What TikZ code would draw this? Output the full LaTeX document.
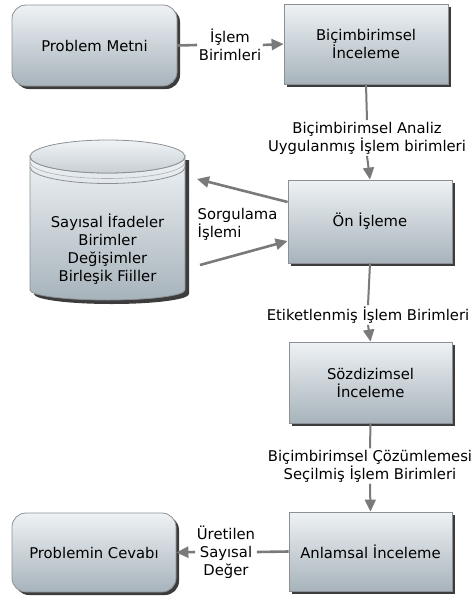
\documentclass[tikz,border=0pt]{standalone}
\usepackage{fontspec}
\setmainfont{DejaVu Sans}
\usetikzlibrary{shadows,arrows.meta}
\definecolor{boxtop}{HTML}{EEF2F5}
\definecolor{boxbot}{HTML}{A7B3BB}
\definecolor{edgegrey}{HTML}{8C9094}
\definecolor{flowgrey}{HTML}{7A7A7A}
\definecolor{shadowgrey}{HTML}{3C3C3C}

\begin{document}
\begin{tikzpicture}[x=1pt,y=-1pt,
  font=\fontsize{14.8}{18}\selectfont,
  stage/.style={draw=edgegrey, line width=0.8pt, top color=boxtop, bottom color=boxbot,
    minimum width=164pt, minimum height=80pt, align=center, inner sep=2pt,
    drop shadow={shadow xshift=3pt, shadow yshift=-3pt, fill=shadowgrey, opacity=1}},
  terminal/.style={stage, rounded corners=14pt},
  lbl/.style={fill=white, inner sep=1.5pt, align=center},
  flowline/.style={draw=flowgrey, line width=2.6pt},
  thinflow/.style={draw=flowgrey, line width=2pt},
  tip/.style={-{Triangle[length=12pt,width=11pt]}}
]
\useasboundingbox (0,0) rectangle (471,600);

% process boxes
\node[terminal] (metin) at (94.5,45.5) [minimum width=165pt, minimum height=81pt] {Problem Metni};
\node[stage] (bicim) at (366,44) {Biçimbirimsel\\İnceleme};
\node[stage] (on) at (370,221.5) [minimum height=83pt] {Ön İşleme};
\node[stage] (soz) at (370.5,382.5) [minimum width=163pt, minimum height=81pt] {Sözdizimsel\\İnceleme};
\node[stage] (anlam) at (370.5,551.5) [minimum width=163pt, minimum height=79pt] {Anlamsal İnceleme};
\node[terminal] (cevap) at (94,552.5) [minimum height=79pt] {Problemin Cevabı};

% database cylinder: shadow, body, lid with two rim lines
\fill[shadowgrey] (34,160) -- (34,294) arc[start angle=180, end angle=360, x radius=77.5, y radius=-10] -- (189,160) -- cycle;
\shade[top color=boxtop, bottom color=boxbot, draw=edgegrey, line width=0.8pt]
  (30,156.5) -- (30,290) arc[start angle=180, end angle=360, x radius=77.5, y radius=-10]
  -- (185,156.5) arc[start angle=0, end angle=-180, x radius=77.5, y radius=-16.5] -- cycle;
\shade[top color=boxtop!90!white, bottom color=boxtop!45!boxbot, draw=edgegrey, line width=0.8pt]
  (107.5,156.5) ellipse[x radius=77.5, y radius=16.5];
\draw[edgegrey!70, line width=0.6pt] (30,162) arc[start angle=180, end angle=360, x radius=77.5, y radius=-16.5];
\draw[edgegrey, line width=0.8pt] (30,167) arc[start angle=180, end angle=360, x radius=77.5, y radius=-16.5];
\node[align=center] (db) at (107.5,249) {Sayısal İfadeler\\Birimler\\Değişimler\\Birleşik Fiiller};
\coordinate (dbin) at (197,179);
\coordinate (dbout) at (200,265);

% edge labels
\node[lbl] (l1) at (230,45) {İşlem\\Birimleri};
\node[lbl] (l2) at (367,138) {Biçimbirimsel Analiz\\Uygulanmış İşlem birimleri};
\node[lbl, align=left, anchor=west, fill=none] (l3) at (196,224) {Sorgulama\\İşlemi};
\node[lbl] (l4) at (368,315) {Etiketlenmiş İşlem Birimleri};
\node[lbl] (l5) at (370,466) {Biçimbirimsel Çözümlemesi\\Seçilmiş İşlem Birimleri};
\node[lbl] (l6) at (226,552) {Üretilen\\Sayısal\\Değer};

% connectors
\draw[flowline] (metin.east) -- (l1.west);
\draw[flowline, tip] (l1.east) -- (bicim.west);
\draw[thinflow] (bicim.south) -- (l2.north);
\draw[thinflow, tip] (l2.south) -- (on.north);
\draw[flowline, tip] ([yshift=19.5pt]on.west) -- (dbin);
\draw[flowline, tip] (dbout) -- ([yshift=-19.5pt]on.west);
\draw[thinflow] (on.south) -- (l4.north);
\draw[thinflow, tip] (l4.south) -- (soz.north);
\draw[thinflow] (soz.south) -- (l5.north);
\draw[thinflow, tip] (l5.south) -- (anlam.north);
\draw[flowline] (anlam.west) -- (l6.east);
\draw[flowline, tip] (l6.west) -- (cevap.east);
\end{tikzpicture}
\end{document}
